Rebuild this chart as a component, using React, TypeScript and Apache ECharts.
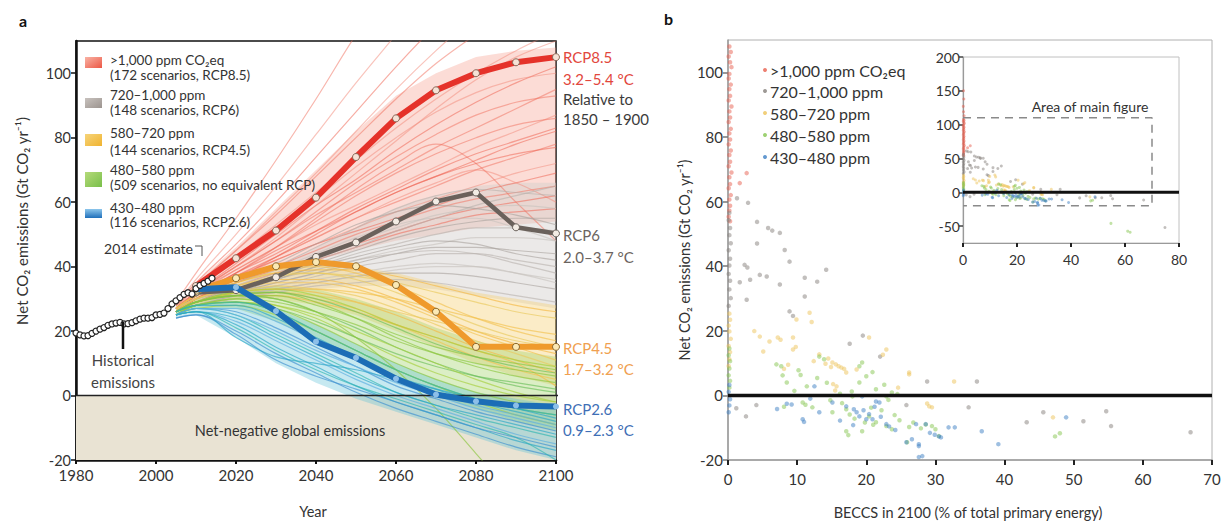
import React, { useEffect, useRef } from "react";
import * as echarts from "echarts";

// ---------------- data ----------------
const HIST_YEARS = [1980, 1981, 1982, 1983, 1984, 1985, 1986, 1987, 1988, 1989, 1990, 1991, 1992, 1993, 1994, 1995, 1996, 1997, 1998, 1999, 2000, 2001, 2002, 2003, 2004, 2005, 2006, 2007, 2008, 2009, 2010, 2011, 2012, 2013, 2014];
const HIST_VALUES = [19.4, 18.8, 18.5, 18.6, 19.3, 20.0, 20.6, 21.1, 21.8, 22.2, 22.5, 22.7, 22.2, 22.3, 22.6, 23.2, 23.7, 24.0, 24.0, 24.2, 25.0, 25.2, 25.6, 27.0, 28.4, 29.4, 30.4, 31.4, 31.9, 31.5, 33.2, 34.2, 34.8, 35.5, 36.4];

const SCEN_YEARS = [2005, 2010, 2020, 2030, 2040, 2050, 2060, 2070, 2080, 2090, 2100];

const RED_LINES = [
  [29, 38, 55, 73, 92, 112, 130, 150, 165, 180, 195],
  [28, 36, 50, 65, 81, 97, 112, 127, 140, 150, 160],
  [28, 35, 47, 60, 74, 88, 102, 115, 127, 137, 146],
  [27, 34, 45, 56, 68, 80, 92, 103, 112, 120, 127],
  [28, 33, 43, 53, 63, 73, 83, 92, 100, 107, 113],
  [27, 32, 41, 50, 59, 67, 76, 84, 91, 97, 102],
  [27, 32, 40, 48, 56, 63, 70, 77, 83, 89, 95],
  [26, 31, 39, 46, 53, 59, 65, 71, 77, 82, 87],
  [27, 31, 38, 45, 51, 57, 63, 68, 73, 78, 82],
  [26, 30, 37, 43, 49, 55, 60, 65, 70, 74, 78],
  [26, 30, 36, 42, 47, 52, 57, 61, 65, 69, 72],
  [27, 31, 37, 42, 47, 51, 55, 59, 63, 66, 69],
  [26, 30, 35, 40, 45, 50, 54, 58, 61, 63, 65],
  [27, 31, 37, 43, 49, 55, 61, 66, 70, 66, 60],
  [26, 30, 36, 43, 50, 57, 63, 68, 72, 75, 77],
  [27, 32, 40, 48, 57, 66, 74, 81, 87, 91, 93],
  [28, 33, 42, 51, 61, 71, 80, 88, 94, 98, 100],
  [26, 30, 35, 39, 43, 47, 51, 55, 58, 60, 62],
  [27, 32, 39, 46, 54, 62, 69, 75, 80, 84, 86],
  [28, 34, 45, 57, 69, 82, 95, 107, 118, 128, 136],
  [26, 29, 34, 38, 42, 46, 50, 53, 56, 57, 58],
  [27, 31, 38, 46, 55, 64, 72, 78, 72, 60, 48],
  [27, 32, 40, 49, 59, 69, 79, 89, 98, 105, 110],
  [26, 31, 38, 44, 51, 58, 64, 70, 75, 79, 83],
];
const RED_UPPER = [29, 35, 46, 58, 70, 82, 93, 100, 105, 107, 108];
const RED_LOWER = [27, 30, 35, 39, 42, 45, 48, 50, 52, 53, 54];

const GRAY_LINES = [
  [27, 31, 35, 40, 46, 52, 58, 62, 64, 63, 62],
  [27, 30, 34, 38, 43, 48, 52, 56, 58, 59, 58],
  [26, 30, 33, 37, 41, 45, 49, 52, 54, 55, 55],
  [26, 29, 33, 36, 40, 44, 47, 50, 52, 52, 51],
  [26, 29, 32, 35, 38, 42, 45, 47, 49, 49, 48],
  [26, 29, 32, 35, 38, 41, 44, 46, 46, 45, 44],
  [26, 29, 32, 34, 37, 40, 42, 44, 44, 42, 40],
  [26, 28, 31, 34, 36, 38, 40, 41, 40, 38, 36],
  [26, 28, 31, 33, 35, 37, 38, 38, 37, 35, 33],
  [26, 28, 30, 32, 34, 35, 36, 35, 33, 31, 29],
  [27, 30, 34, 39, 44, 49, 53, 55, 55, 52, 48],
  [26, 29, 32, 36, 40, 43, 46, 48, 47, 44, 42],
  [27, 30, 33, 37, 42, 46, 51, 55, 59, 62, 65],
  [26, 29, 31, 33, 35, 37, 39, 40, 40, 38, 35],
  [27, 31, 36, 41, 47, 53, 57, 59, 58, 56, 53],
  [26, 29, 32, 36, 39, 42, 44, 45, 44, 41, 38],
];
const GRAY_UPPER = [28, 31, 35, 40, 46, 52, 58, 62, 65, 66, 66];
const GRAY_LOWER = [26, 28, 30, 32, 33, 34, 34, 33, 31, 29, 27];

const YELLOW_LINES = [
  [27, 31, 36, 39, 40, 38, 34, 29, 24, 20, 17],
  [27, 31, 35, 38, 38, 36, 32, 27, 22, 18, 15],
  [26, 30, 34, 36, 36, 34, 30, 25, 20, 16, 13],
  [26, 30, 33, 35, 35, 33, 29, 24, 19, 15, 11],
  [26, 29, 32, 34, 33, 31, 27, 22, 17, 13, 9],
  [26, 29, 32, 33, 32, 29, 25, 20, 15, 11, 7],
  [26, 29, 31, 32, 30, 27, 22, 17, 12, 8, 5],
  [27, 30, 34, 37, 38, 37, 35, 32, 29, 26, 24],
  [27, 31, 35, 38, 39, 39, 37, 34, 31, 28, 26],
  [26, 29, 32, 33, 33, 32, 30, 27, 24, 21, 19],
  [26, 29, 31, 32, 31, 29, 26, 23, 20, 17, 15],
  [26, 29, 31, 31, 29, 26, 22, 18, 14, 10, 3],
];
const YELLOW_UPPER = [28, 32, 37, 40, 41, 40, 38, 35, 32, 30, 28];
const YELLOW_LOWER = [26, 28, 30, 30, 28, 25, 20, 15, 10, 6, 3];

const GREEN_LINES = [
  [26, 29, 32, 32, 29, 24, 18, 13, 9, 6, 4],
  [26, 29, 31, 30, 26, 21, 15, 10, 6, 3, 1],
  [26, 28, 30, 28, 24, 18, 12, 7, 3, 0, -2],
  [26, 28, 29, 27, 22, 16, 10, 5, 1, -2, -4],
  [25, 28, 29, 26, 20, 14, 8, 3, -1, -4, -6],
  [26, 29, 32, 33, 31, 27, 22, 18, 14, 11, 9],
  [26, 29, 31, 31, 28, 24, 19, 15, 12, 10, 8],
  [25, 28, 29, 27, 23, 18, 13, 9, 6, 4, 2],
  [25, 27, 28, 25, 20, 14, 8, 3, -2, -6, -9],
  [26, 28, 30, 29, 26, 22, 17, 13, 10, 8, 6],
  [26, 29, 31, 32, 30, 26, 21, 16, 12, 9, 7],
  [25, 28, 29, 28, 25, 20, 15, 10, 5, 1, -2],
  [26, 29, 31, 30, 26, 18, 8, -4, -18, -32, -45],
];
const GREEN_UPPER = [27, 30, 33, 34, 33, 30, 26, 21, 17, 14, 12];
const GREEN_LOWER = [25, 27, 27, 23, 17, 11, 5, 0, -4, -8, -11];

const BLUE_LINES = [
  [26, 28, 28, 24, 18, 12, 6, 2, -2, -5, -8],
  [25, 27, 26, 21, 15, 9, 3, -1, -5, -8, -11],
  [25, 27, 25, 19, 13, 7, 1, -3, -7, -10, -13],
  [25, 26, 23, 17, 11, 5, 0, -4, -8, -12, -15],
  [25, 26, 22, 15, 9, 3, -2, -6, -10, -14, -17],
  [24, 25, 20, 13, 7, 1, -4, -8, -12, -16, -19],
  [26, 28, 29, 26, 20, 14, 8, 3, -1, -4, -6],
  [25, 27, 27, 23, 17, 11, 5, 1, -3, -6, -9],
  [25, 26, 24, 18, 12, 6, 1, -3, -6, -9, -12],
  [24, 25, 19, 11, 6, 2, -2, -6, -10, -13, -16],
  [25, 26, 21, 14, 8, 3, -1, -5, -9, -13, -20],
  [25, 27, 25, 20, 14, 9, 4, 0, -4, -7, -10],
  [25, 26, 18, 12, 10, 8, 5, 2, -1, -4, -7],
];
const BLUE_UPPER = [26, 28, 29, 27, 22, 16, 10, 5, 1, -1, -3];
const BLUE_LOWER = [24, 25, 18, 10, 4, -1, -5, -9, -13, -17, -20];

const RCP_YEARS = [2010, 2020, 2030, 2040, 2050, 2060, 2070, 2080, 2090, 2100];
const RCP85 = [34, 42.6, 51.2, 61.4, 74, 86, 94.7, 100, 103.4, 105];
const RCP6 = [32, 32.7, 36.7, 43, 47.5, 54, 60.2, 63, 52.2, 50.3];
const RCP45 = [32.5, 36.4, 40.1, 41.4, 40.1, 34.3, 26, 15.1, 15.1, 15.1];
const RCP26 = [33, 33.6, 26.2, 16.7, 11.7, 5.2, 0.3, -1.8, -3.1, -3.4];

const LEFT_X_MIN = 1980, LEFT_X_MAX = 2100, LEFT_Y_MIN = -20, LEFT_Y_MAX = 110;
const LEFT_Y_TICKS = [-20, 0, 20, 40, 60, 80, 100];
const MAIN_X_MIN = 0, MAIN_X_MAX = 70, MAIN_Y_MIN = -20, MAIN_Y_MAX = 110;
const INSET_X_MAX = 80, INSET_Y_MIN = -75, INSET_Y_MAX = 200;
const INSET_Y_TICKS = [-50, 0, 50, 100, 150, 200];

const LEGEND_A_LINE1 = [">1,000 ppm CO₂eq", "720–1,000 ppm", "580–720 ppm", "480–580 ppm", "430–480 ppm"];
const LEGEND_A_LINE2 = ["(172 scenarios, RCP8.5)", "(148 scenarios, RCP6)", "(144 scenarios, RCP4.5)", "(509 scenarios, no equivalent RCP)", "(116 scenarios, RCP2.6)"];
const LEGEND_B = [">1,000 ppm CO₂eq", "720–1,000 ppm", "580–720 ppm", "480–580 ppm", "430–480 ppm"];

// scatter (BECCS %, net CO2)
const RED_PTS = [[0.2, 108], [0.4, 106.3], [0.1, 104.9], [0.3, 103.1], [0.5, 101.6], [0.2, 99.5], [0.1, 98.1], [0.4, 96.2], [0.2, 94.8], [0.3, 92.7], [0.1, 91.3], [0.5, 89.4], [0.2, 87.9], [0.3, 86.0], [0.1, 84.6], [0.4, 82.5], [0.2, 81.1], [0.3, 79.2], [0.1, 77.7], [0.4, 75.8], [0.2, 74.4], [0.3, 72.3], [0.1, 70.9], [0.5, 69.0], [0.2, 67.5], [0.3, 65.4], [0.1, 64.1], [0.4, 62.0], [0.2, 60.6], [0.3, 58.7], [0.2, 57.2], [0.1, 55.3], [0.3, 53.9], [1.7, 65.7], [2.7, 68.8]];
const GRAY_PTS = [[0.2, 56.5], [0.1, 54.2], [0.3, 51.8], [0.2, 49.6], [0.4, 47.1], [0.1, 44.9], [0.3, 42.3], [0.2, 40.2], [0.1, 37.6], [0.3, 35.5], [0.2, 32.8], [0.4, 30.1], [0.1, 27.7], [1.3, 61], [2.9, 59.6], [4.2, 53.7], [5.8, 51.8], [6.4, 51], [7.5, 50.3], [4.2, 47], [8.2, 45], [2.4, 40.4], [2.8, 39.6], [3.2, 35.8], [4.6, 37.3], [5.6, 36.8], [1.7, 35], [7.5, 34.3], [8.9, 41.4], [11.1, 36.4], [12.9, 35.2], [14.2, 38.9], [11.1, 30.6], [8.9, 26], [2.7, 29.6], [9.4, 24.6], [1.2, -4], [2.6, -6.5], [4.1, -3], [28.8, 4.3], [34.8, -3.7], [36, 4.3], [43.2, -8.3], [45.6, -5.2], [51.4, -8], [54.7, -4.9], [55.4, -9.5], [66.9, -11.4], [22, 12], [25.8, -3], [17.6, 16], [19.5, 18.5]];
const YELLOW_PTS = [[0.2, 25.3], [0.3, 23.4], [0.1, 21.6], [0.2, 19.8], [0.4, 17.5], [0.1, 15.3], [0.3, 13.4], [0.2, 11.2], [0.1, 9.1], [7.2, 17.9], [7.6, 17.2], [9.4, 17.9], [9.4, 14.2], [9.8, 15], [4.6, 18.2], [6, 16.7], [13.2, 12.7], [15.1, 10.2], [15.6, 9.6], [16.4, 8.6], [17.1, 7.1], [15.7, 2.8], [15.2, 3.5], [18.6, 8], [29.5, -3.7], [29.1, -3.4], [9.9, 23.5], [11.8, 25.6], [20.4, 17.9], [22.9, 14.2], [26.2, 7.1], [26.2, 6.5], [32.7, 4.3], [47, -6.8], [14.5, 11.4], [16.8, 8.2], [5.1, 13.6], [12.4, 10.6], [24.6, 2.4], [14.1, 9.8], [14.9, 8.8], [16.0, 9.0], [15.5, 1.5], [8.1, 8.2], [8.7, 9.5], [22.4, 12.6], [28.8, -2.5], [3.8, 19.9], [12.1, 22.7]];
const GREEN_PTS = [[0.2, 14.5], [0.1, 12.4], [0.3, 10.6], [0.2, 8.3], [0.1, 6.2], [0.3, 4.5], [0.2, 2.4], [7, 9.6], [7.7, 9], [11.4, 2.8], [10.8, -2.2], [11.2, -2.9], [12.2, -3.7], [15.1, -5.2], [17.1, -4.3], [17.6, -5.9], [19, 9], [19.4, 10.2], [20, 5.9], [21.4, 1.9], [22.9, -0.3], [23.7, 0.9], [24.5, 0.4], [17.1, -11.1], [19.4, -11.1], [17.4, -12.3], [20.4, -6.5], [21.4, -8.3], [22.9, -9.5], [23.7, -10.5], [25.9, -14.5], [28.6, -9], [29.5, -9.5], [30, -10.5], [30.5, -12.6], [8.5, 4], [7.9, 6.2], [18, -0.3], [19, 4], [13.2, 12], [13.9, 11.2], [47.3, -12.7], [48, -11.7], [14.8, -1.5], [16.2, 0.5], [10.2, 7.8], [12.9, 5.4], [20.7, -3.8], [24.1, -6.1], [26.8, -8.4], [18.3, -7.2], [19.8, -8.4], [21, -9.1], [22.2, -4.6], [23.2, -1.4], [17.9, 1.2], [16.5, -2.4], [24.8, -7.7], [26.2, -9.8], [27.9, -10.2], [9.6, 1.4], [8.1, -3.5], [10.5, 6.3], [14.3, 3.9], [20.9, 7.2], [22.6, 3.3]];
const BLUE_PTS = [[0.2, 3.2], [0.1, 1.1], [0.3, -1.2], [0.2, -3.1], [0.1, -5.2], [10.8, -7.4], [11, -8.2], [13.2, -5.2], [15.1, -2.2], [12.5, 2.8], [17.1, -3.4], [18.6, -5.2], [19, -6.5], [20, -7.4], [20.9, -7.4], [19.4, -0.3], [21.4, -1.9], [21.9, -2.2], [22.9, -8.9], [23.3, -9.6], [25.8, -14.5], [26.6, -13.6], [27.6, -15.7], [28.1, -18.8], [27.2, -8.9], [28.6, -8.9], [30.8, -13], [9.2, -2.8], [8.5, -2.6], [27.6, -15.1], [27.6, -19.1], [30.5, -12.7], [36.7, -11.1], [48.9, -6.8], [39.1, -15.1], [31.9, -9.9], [32.8, -9.9], [16.2, -7.8], [18.1, -9.2], [19.6, -4.6], [20.4, -5.8], [21.2, -3.5], [18.2, -4.3], [22.1, -6.6], [24.2, -10.7], [29.2, -11.6], [29.9, -12.2], [7.1, -4.2], [11.9, -1.0]];
const RED_INSET_EXTRA = [[0.2, 150], [0.3, 138], [0.1, 127], [0.2, 119], [0.4, 113]];
const GRAY_INSET_EXTRA = [[1.9, 60], [5, 52], [6.5, 50], [74.8, -52], [49, -8], [2, 45]];
const GREEN_INSET_EXTRA = [[61.9, -59], [61, -57.5], [54.8, -46]];

// ---------------- styling ----------------
const FONT = "Lato, 'Open Sans', 'DejaVu Sans', sans-serif";
const C_RED = "#e8604f", C_GRAY = "#85807b", C_YELLOW = "#eec35a", C_GREEN = "#86c650", C_BLUE = "#3d7fc4";

function txt(text: string, x: number, y: number, size: number, fill: string, extra: any = {}) {
  const { align, weight, rotation, vAlign } = extra;
  return {
    type: "text", x, y, z: 100, silent: true, rotation: rotation || 0,
    style: { text, fill, fontSize: size, fontFamily: FONT, fontWeight: weight || "normal", align: align || "left", verticalAlign: vAlign || "middle" },
  };
}

function buildOption() {
  const series: any[] = [];
  const g0 = { xAxisIndex: 0, yAxisIndex: 0 };

  // net-negative background
  series.push({
    type: "line", ...g0, data: [[LEFT_X_MIN, 0]], symbol: "none", lineStyle: { opacity: 0 }, silent: true, z: 1,
    markArea: { silent: true, itemStyle: { color: "#e9e3d3" }, data: [[{ yAxis: LEFT_Y_MIN }, { yAxis: 0 }]] },
  });

  const band = (upper: number[], lower: number[], color: string, opacity: number) => ({
    type: "custom", ...g0, silent: true, clip: true, z: 2,
    data: [[SCEN_YEARS[0], lower[0]]],
    renderItem: (_p: any, api: any) => {
      const pts: number[][] = [];
      SCEN_YEARS.forEach((yr, i) => pts.push(api.coord([yr, upper[i]])));
      for (let i = SCEN_YEARS.length - 1; i >= 0; i--) pts.push(api.coord([SCEN_YEARS[i], lower[i]]));
      return { type: "polygon", shape: { points: pts }, style: { fill: color, opacity } };
    },
  });
  const fan = (lines: number[][], upper: number[], lower: number[], colors: string[], bandColor: string, bandOp: number, lineOp: number) => {
    series.push(band(upper, lower, bandColor, bandOp));
    lines.forEach((vals, i) => {
      series.push({
        type: "line", ...g0, silent: true, clip: true, symbol: "none", smooth: 0.35, z: 2,
        data: SCEN_YEARS.map((yr, k) => [yr, vals[k]]),
        lineStyle: { color: colors[i % colors.length], width: 1.2, opacity: lineOp },
      });
    });
  };
  fan(RED_LINES, RED_UPPER, RED_LOWER, ["#f26d5b", "#f4897a", "#ef5d4c"], "#f69a8a", 0.35, 0.5);
  fan(GRAY_LINES, GRAY_UPPER, GRAY_LOWER, ["#b7b0ab", "#c7c1bd", "#a9a29d"], "#d3cecb", 0.45, 0.6);
  fan(YELLOW_LINES, YELLOW_UPPER, YELLOW_LOWER, ["#f2c14e", "#eac95c", "#f4b944"], "#f4d072", 0.4, 0.65);
  fan(GREEN_LINES, GREEN_UPPER, GREEN_LOWER, ["#8cc63f", "#6cbf5a", "#a6cf3c"], "#a5d46e", 0.4, 0.65);
  fan(BLUE_LINES, BLUE_UPPER, BLUE_LOWER, ["#2aa6c6", "#3c8fd0", "#30b5b0", "#5aaee0"], "#5cc0d6", 0.35, 0.65);

  // zero line
  series.push({
    type: "line", ...g0, silent: true, clip: false, symbol: "none", z: 3,
    data: [[LEFT_X_MIN, 0], [LEFT_X_MAX + 1.5, 0]], lineStyle: { color: "#222", width: 1.5 },
  });

  // historical
  series.push({
    type: "line", ...g0, silent: true, z: 6, symbol: "circle", symbolSize: 6,
    data: HIST_YEARS.map((yr, i) => [yr, HIST_VALUES[i]]),
    lineStyle: { color: "#222", width: 3 },
    itemStyle: { color: "#ffffff", borderColor: "#222", borderWidth: 1.2 },
  });

  // RCP pathways
  const rcp = (vals: number[], color: string, width: number, mk: any, z: number) => ({
    type: "line", ...g0, silent: true, z, symbol: "circle", symbolSize: mk.size,
    data: RCP_YEARS.map((yr, i) => [yr, vals[i]]),
    lineStyle: { color, width },
    itemStyle: { color: mk.fill, borderColor: mk.border, borderWidth: mk.bw },
  });
  series.push(rcp(RCP6, "#6a615b", 4.5, { size: 7, fill: "#f3ece4", border: "#6a615b", bw: 1 }, 4));
  series.push(rcp(RCP45, "#ef9a2c", 6, { size: 7, fill: "#fbe9b5", border: "#8a6a30", bw: 1 }, 4));
  series.push(rcp(RCP85, "#e5322a", 6, { size: 7, fill: "#f6e2d6", border: "#8a6a5a", bw: 1 }, 5));
  series.push(rcp(RCP26, "#1c6db6", 6, { size: 6, fill: "#8cbfe9", border: "#8cbfe9", bw: 0 }, 5));

  // panel b scatter
  const sc = (name: string, data: number[][], color: string, grid: number, size: number, op: number) => ({
    type: "scatter", name, xAxisIndex: grid, yAxisIndex: grid, data, symbolSize: size, silent: true, clip: true,
    itemStyle: { color, opacity: op }, z: 3,
  });
  const cats: [string, number[][], number[][], string][] = [
    [LEGEND_B[0], RED_PTS, RED_INSET_EXTRA, C_RED],
    [LEGEND_B[1], GRAY_PTS, GRAY_INSET_EXTRA, C_GRAY],
    [LEGEND_B[2], YELLOW_PTS, [], C_YELLOW],
    [LEGEND_B[3], GREEN_PTS, GREEN_INSET_EXTRA, C_GREEN],
    [LEGEND_B[4], BLUE_PTS, [], C_BLUE],
  ];
  cats.forEach(([name, pts, , color]) => series.push(sc(name, pts, color, 1, 4.5, 0.5)));
  series.push({
    type: "line", xAxisIndex: 1, yAxisIndex: 1, silent: true, symbol: "none", z: 5,
    data: [[MAIN_X_MIN, 0], [MAIN_X_MAX, 0]], lineStyle: { color: "#111", width: 3.5 },
  });
  cats.forEach(([name, pts, extra, color]) => series.push(sc(name, pts.concat(extra), color, 2, 3, 0.5)));
  series.push({
    type: "line", xAxisIndex: 2, yAxisIndex: 2, silent: true, symbol: "none", z: 5,
    data: [[0, 0], [INSET_X_MAX, 0]], lineStyle: { color: "#111", width: 3 },
  });
  series.push({
    type: "line", xAxisIndex: 2, yAxisIndex: 2, silent: true, symbol: "none", z: 4,
    data: [[MAIN_X_MIN, MAIN_Y_MAX], [MAIN_X_MAX, MAIN_Y_MAX], [MAIN_X_MAX, MAIN_Y_MIN], [MAIN_X_MIN, MAIN_Y_MIN]],
    lineStyle: { color: "#8a8a8a", width: 1.5, type: [8, 6] },
  });

  const lab = (size: number, margin: number, extra: any = {}) => ({ fontSize: size, color: "#333", fontFamily: FONT, margin, ...extra });

  const xAxis = [
    {
      gridIndex: 0, type: "value", min: LEFT_X_MIN, max: LEFT_X_MAX, interval: 20,
      axisLine: { onZero: false, lineStyle: { color: "#111", width: 2.5 } },
      axisTick: { show: true, length: 4, lineStyle: { color: "#111", width: 2 } },
      axisLabel: lab(15, 7, { formatter: (v: number) => String(v) }), splitLine: { show: false },
    },
    {
      gridIndex: 1, type: "value", min: MAIN_X_MIN, max: MAIN_X_MAX, interval: 10,
      axisLine: { onZero: false, lineStyle: { color: "#9a9a9a", width: 1.5 } },
      axisTick: { show: true, length: 5, lineStyle: { color: "#222", width: 2 } },
      axisLabel: lab(15, 11), splitLine: { show: false },
    },
    {
      gridIndex: 2, type: "value", min: 0, max: INSET_X_MAX, interval: 20,
      axisLine: { onZero: false, lineStyle: { color: "#9a9a9a", width: 1.2 } },
      axisTick: { show: true, length: 4, lineStyle: { color: "#222", width: 2 } },
      axisLabel: lab(14, 9), splitLine: { show: false },
    },
  ];
  const yAxis = [
    {
      gridIndex: 0, type: "value", min: LEFT_Y_MIN, max: LEFT_Y_MAX,
      axisLine: { show: true, onZero: false, lineStyle: { color: "#111", width: 2.5 } },
      axisTick: { show: true, length: 5, customValues: LEFT_Y_TICKS, lineStyle: { color: "#111", width: 1.5 } },
      axisLabel: lab(14.5, 5, { customValues: LEFT_Y_TICKS }), splitLine: { show: false },
    },
    {
      gridIndex: 1, type: "value", min: MAIN_Y_MIN, max: MAIN_Y_MAX,
      axisLine: { show: true, onZero: false, lineStyle: { color: "#9a9a9a", width: 1.5 } },
      axisTick: { show: true, length: 5, customValues: LEFT_Y_TICKS, lineStyle: { color: "#777", width: 1.5 } },
      axisLabel: lab(15, 5, { customValues: LEFT_Y_TICKS }), splitLine: { show: false },
    },
    {
      gridIndex: 2, type: "value", min: INSET_Y_MIN, max: INSET_Y_MAX,
      axisLine: { show: true, onZero: false, lineStyle: { color: "#9a9a9a", width: 1.2 } },
      axisTick: { show: true, length: 4, customValues: INSET_Y_TICKS, lineStyle: { color: "#444", width: 1.5 } },
      axisLabel: lab(14, 3, { customValues: INSET_Y_TICKS }), splitLine: { show: false },
    },
  ];

  // graphics: texts, legends
  const graphic: any[] = [];
  graphic.push(txt("a", 19, 20, 16, "#111", { weight: "bold" }));
  graphic.push(txt("b", 664, 18, 16, "#111", { weight: "bold" }));

  const patchFills = [
    { type: "linear", x: 0, y: 0, x2: 1, y2: 1, colorStops: [{ offset: 0, color: "#f9b3a5" }, { offset: 1, color: "#ec5745" }] },
    { type: "linear", x: 0, y: 0, x2: 1, y2: 1, colorStops: [{ offset: 0, color: "#c8c2be" }, { offset: 1, color: "#9c948f" }] },
    { type: "linear", x: 0, y: 0, x2: 1, y2: 1, colorStops: [{ offset: 0, color: "#f6d47a" }, { offset: 1, color: "#f0b330" }] },
    { type: "linear", x: 0, y: 0, x2: 1, y2: 1, colorStops: [{ offset: 0, color: "#b5da7a" }, { offset: 1, color: "#79bf4a" }] },
    { type: "linear", x: 0, y: 0, x2: 0, y2: 1, colorStops: [{ offset: 0, color: "#8cc6ec" }, { offset: 1, color: "#1f6fba" }] },
  ];
  const patchY = [57, 98, 134, 172, 209];
  const patchH = [11, 10, 12, 15, 9];
  const l1Y = [60, 95, 133, 170, 208];
  const l2Y = [75, 110, 150, 185, 222];
  LEGEND_A_LINE1.forEach((t, i) => {
    graphic.push({ type: "rect", z: 100, silent: true, shape: { x: 85, y: patchY[i], width: 17, height: patchH[i] }, style: { fill: patchFills[i] } });
    graphic.push(txt(t, 110, l1Y[i], 13.5, "#333"));
    graphic.push(txt(LEGEND_A_LINE2[i], 110, l2Y[i], 13.5, "#333"));
  });

  graphic.push(txt("2014 estimate", 193, 248, 14, "#333", { align: "right" }));
  graphic.push({ type: "polyline", z: 100, silent: true, shape: { points: [[195, 246], [202, 246], [202, 256]] }, style: { stroke: "#555", lineWidth: 1, fill: null } });
  graphic.push({ type: "line", z: 100, silent: true, shape: { x1: 123, y1: 322, x2: 123, y2: 349 }, style: { stroke: "#111", lineWidth: 2.5 } });
  graphic.push(txt("Historical", 123, 360, 15, "#444", { align: "center" }));
  graphic.push(txt("emissions", 123, 382, 15, "#444", { align: "center" }));
  graphic.push(txt("Net-negative global emissions", 290, 430, 14.5, "#333", { align: "center" }));

  const ann: [string, number, string][] = [
    ["RCP8.5", 57, "#e2473d"], ["3.2–5.4 °C", 79, "#e2473d"], ["Relative to", 99, "#3c3c3c"], ["1850 – 1900", 119, "#3c3c3c"],
    ["RCP6", 235, "#6b6460"], ["2.0–3.7 °C", 257, "#6b6460"],
    ["RCP4.5", 348, "#f0a050"], ["1.7–3.2 °C", 369, "#f0a050"],
    ["RCP2.6", 409, "#3f6fb6"], ["0.9–2.3 °C", 430, "#3f6fb6"],
  ];
  ann.forEach(([t, y, c]) => graphic.push(txt(t, 563, y, 15, c)));

  graphic.push(txt("Year", 313, 511, 14.5, "#333", { align: "center" }));
  graphic.push(txt("BECCS in 2100 (% of total primary energy)", 968, 512, 14.5, "#333", { align: "center" }));
  graphic.push(txt("Net CO₂ emissions (Gt CO₂ yr⁻¹)", 22, 221, 15, "#333", { align: "center", rotation: Math.PI / 2 }));
  graphic.push(txt("Net CO₂ emissions (Gt CO₂ yr⁻¹)", 684, 260, 14.5, "#333", { align: "center", rotation: Math.PI / 2 }));

  const dotC = [C_RED, C_GRAY, C_YELLOW, C_GREEN, C_BLUE];
  const lbY = [70, 91, 113, 135, 157];
  LEGEND_B.forEach((t, i) => {
    graphic.push({ type: "circle", z: 100, silent: true, shape: { cx: 765, cy: lbY[i], r: 2 }, style: { fill: dotC[i], opacity: 0.8 } });
    graphic.push(txt(t, 770, lbY[i], 16, "#333"));
  });
  graphic.push(txt("Area of main figure", 1090, 106, 14, "#333", { align: "center" }));

  return {
    animation: false,
    backgroundColor: "#ffffff",
    textStyle: { fontFamily: FONT },
    grid: [
      { left: 76, top: 41, width: 480, height: 419, show: true, borderColor: "#111", borderWidth: 1.5, backgroundColor: "transparent", outerBoundsMode: "none" },
      { left: 728, top: 40, width: 484, height: 420, show: true, borderColor: "#b0b0b0", borderWidth: 1, backgroundColor: "transparent", outerBoundsMode: "none" },
      { left: 963, top: 57, width: 216, height: 186, show: true, borderColor: "#c0c0c0", borderWidth: 1, backgroundColor: "#ffffff", outerBoundsMode: "none" },
    ],
    xAxis, yAxis, series, graphic,
  };
}

export default function App() {
  const ref = useRef<HTMLDivElement>(null);
  useEffect(() => {
    const chart = echarts.init(ref.current as HTMLDivElement, null, { renderer: "svg" });
    chart.setOption(buildOption() as any);
    return () => chart.dispose();
  }, []);
  return <div ref={ref} style={{ position: "fixed", left: 0, top: 0, width: 1227, height: 521, background: "#fff" }} />;
}
